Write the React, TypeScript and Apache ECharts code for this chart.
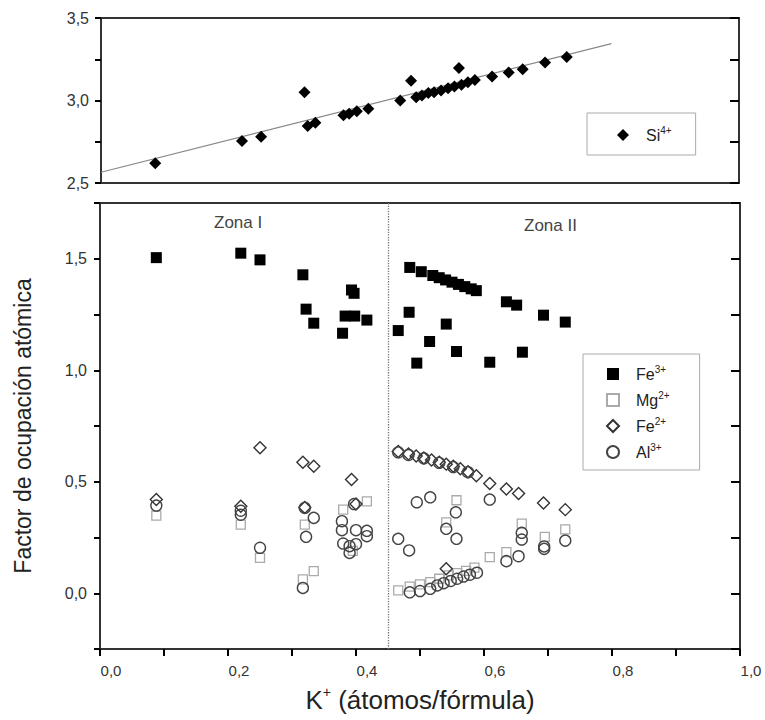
import React, { useEffect, useRef } from "react";
import * as echarts from "echarts";

// ---------- Data ----------
// Top panel: Si4+ vs K+
const siK = [0.085, 0.221, 0.251, 0.319, 0.324, 0.336, 0.38, 0.389, 0.401, 0.419, 0.469, 0.486, 0.494, 0.503, 0.513, 0.522, 0.533, 0.544, 0.554, 0.561, 0.565, 0.575, 0.586, 0.613, 0.639, 0.661, 0.696, 0.73];
const siVal = [2.62, 2.755, 2.78, 3.05, 2.845, 2.865, 2.91, 2.92, 2.935, 2.95, 3.0, 3.12, 3.02, 3.03, 3.045, 3.05, 3.06, 3.075, 3.085, 3.197, 3.095, 3.11, 3.125, 3.146, 3.17, 3.19, 3.23, 3.263];
// regression line end points
const fitK = [0.0, 0.8];
const fitVal = [2.565, 3.345];

// Bottom panel
const fe3K = [0.088, 0.22, 0.25, 0.317, 0.322, 0.334, 0.379, 0.393, 0.397, 0.383, 0.398, 0.417,
  0.466, 0.483, 0.495, 0.515, 0.541, 0.557, 0.609, 0.66, 0.484, 0.502, 0.52, 0.53, 0.54, 0.55, 0.56, 0.57, 0.58, 0.588, 0.635, 0.651, 0.693, 0.727];
const fe3Val = [1.505, 1.525, 1.495, 1.428, 1.274, 1.211, 1.166, 1.36, 1.345, 1.243, 1.243, 1.225,
  1.178, 1.26, 1.032, 1.129, 1.207, 1.084, 1.036, 1.081, 1.461, 1.442, 1.425, 1.415, 1.405, 1.395, 1.385, 1.375, 1.365, 1.357, 1.307, 1.292, 1.247, 1.216];

const mgK = [0.088, 0.22, 0.25, 0.317, 0.334, 0.32, 0.38, 0.417, 0.395,
  0.466, 0.484, 0.5, 0.516, 0.53, 0.545, 0.558, 0.572, 0.585, 0.609, 0.635, 0.557, 0.541, 0.659, 0.695, 0.727];
const mgVal = [0.348, 0.308, 0.159, 0.062, 0.099, 0.308, 0.375, 0.412, 0.19,
  0.013, 0.03, 0.04, 0.05, 0.065, 0.08, 0.09, 0.1, 0.115, 0.162, 0.184, 0.417, 0.318, 0.312, 0.253, 0.286];

const fe2K = [0.088, 0.22, 0.25, 0.317, 0.334, 0.393, 0.32, 0.4,
  0.466, 0.482, 0.494, 0.506, 0.518, 0.53, 0.541, 0.552, 0.563, 0.575, 0.588, 0.609, 0.635, 0.654, 0.693, 0.727, 0.541];
const fe2Val = [0.42, 0.39, 0.652, 0.587, 0.569, 0.51, 0.385, 0.4,
  0.636, 0.625, 0.615, 0.607, 0.598, 0.588, 0.579, 0.569, 0.558, 0.545, 0.527, 0.492, 0.468, 0.447, 0.405, 0.375, 0.11];

const alK = [0.088, 0.22, 0.22, 0.25, 0.317, 0.32, 0.322, 0.334, 0.378, 0.378, 0.38, 0.39, 0.39, 0.4, 0.4, 0.417, 0.417, 0.397,
  0.466, 0.483, 0.495, 0.516, 0.556, 0.609, 0.541, 0.557, 0.659, 0.659, 0.654, 0.635, 0.694, 0.694, 0.727,
  0.484, 0.5, 0.516, 0.527, 0.537, 0.548, 0.558, 0.568, 0.578, 0.589,
  0.466, 0.482, 0.506, 0.53, 0.552, 0.575];
const alVal = [0.393, 0.352, 0.37, 0.204, 0.024, 0.383, 0.253, 0.338, 0.323, 0.283, 0.223, 0.211, 0.181, 0.283, 0.22, 0.28, 0.256, 0.4,
  0.244, 0.192, 0.408, 0.43, 0.363, 0.42, 0.289, 0.244, 0.271, 0.241, 0.166, 0.144, 0.199, 0.21, 0.236,
  0.004, 0.01, 0.02, 0.035, 0.045, 0.055, 0.065, 0.075, 0.083, 0.092,
  0.632, 0.62, 0.605, 0.585, 0.566, 0.543];

const zoneBoundary = 0.445;
const zoneLabels = ["Zona I", "Zona II"];

// Tick values that carry labels
const xLabelTicks = [0, 0.2, 0.4, 0.6, 0.8, 1.0];
const bottomYTicks = [0, 0.5, 1.0, 1.5];

const FONT = "'Liberation Sans', Arial, sans-serif";
const comma = (v: number) => v.toFixed(1).replace(".", ",");
const isIn = (list: number[], v: number) => list.some((t) => Math.abs(t - v) < 1e-6);
const zip = (a: number[], b: number[]) => a.map((v, i) => [v, b[i]]);

const supRich = {
  g: { width: 12, fontSize: 16, lineHeight: 20 },
  b: { fontSize: 16, color: "#222", fontFamily: FONT, lineHeight: 20 },
  s: { fontSize: 10, color: "#222", fontFamily: FONT, lineHeight: 12, verticalAlign: "top" },
};
const legendFmt = (name: string) => {
  const m = name.match(/^([A-Za-z]+)(\d\+)$/);
  return m ? `{g|}{b|${m[1]}}{s|${m[2]}}` : name;
};

const mkLine = () => ({ show: true, onZero: false, lineStyle: { color: "#333", width: 2 } });
const mkTick = (length: number, inside: boolean) => ({
  show: true, inside, length, lineStyle: { color: "#000", width: 2 },
});

export default function App() {
  const ref = useRef<HTMLDivElement>(null);
  useEffect(() => {
    if (!ref.current) return;
    const chart = echarts.init(ref.current, null, { renderer: "svg" });
    const labelStyle = { fontSize: 16, color: "#333", fontFamily: FONT };
    const frameAxis = (gridIndex: number, position: string) => ({
      type: "value", gridIndex, position, min: 0, max: 1, interval: 0.2,
      axisLine: mkLine(), axisTick: { show: false }, axisLabel: { show: false }, splitLine: { show: false },
    });
    const option: any = {
      animation: false,
      grid: [
        { left: 101, top: 18, width: 638, height: 165 },
        { left: 100, top: 203, width: 640, height: 446 },
      ],
      xAxis: [
        frameAxis(0, "bottom"),
        frameAxis(0, "top"),
        {
          type: "value", gridIndex: 1, position: "bottom", min: 0, max: 1, interval: 0.1,
          axisLine: mkLine(),
          axisTick: mkTick(7, false),
          axisLabel: {
            ...labelStyle, fontSize: 15, margin: 14, padding: [0, 0, 0, 22],
            formatter: (v: number) => (isIn(xLabelTicks, v) ? comma(v) : ""),
          },
          splitLine: { show: false },
          name: "{k|K}{p|+}{t| (átomos/fórmula)}",
          nameLocation: "middle",
          nameGap: 36,
          nameTextStyle: {
            rich: {
              k: { fontSize: 26, color: "#222", fontFamily: FONT, lineHeight: 30 },
              p: { fontSize: 14, color: "#222", fontFamily: FONT, lineHeight: 14, verticalAlign: "top" },
              t: { fontSize: 26, color: "#222", fontFamily: FONT, lineHeight: 30 },
            },
          },
        },
        frameAxis(1, "top"),
      ],
      yAxis: [
        {
          type: "value", gridIndex: 0, position: "left", min: 2.5, max: 3.5, interval: 0.25,
          axisLine: mkLine(),
          axisTick: mkTick(6, false),
          axisLabel: {
            ...labelStyle, margin: 12,
            formatter: (v: number) => (Math.abs(v * 2 - Math.round(v * 2)) < 1e-6 ? comma(v) : ""),
          },
          splitLine: { show: false },
        },
        {
          type: "value", gridIndex: 0, position: "right", min: 2.5, max: 3.5, interval: 0.25,
          axisLine: mkLine(),
          axisTick: mkTick(9, true),
          axisLabel: { show: false }, splitLine: { show: false },
        },
        {
          type: "value", gridIndex: 1, position: "left", min: -0.25, max: 1.75, interval: 0.25,
          axisLine: mkLine(),
          axisTick: mkTick(6, false),
          axisLabel: {
            ...labelStyle, margin: 13,
            formatter: (v: number) => (isIn(bottomYTicks, v) ? comma(v) : ""),
          },
          splitLine: { show: false },
          name: "Factor de ocupación atómica",
          nameLocation: "middle",
          nameGap: 66,
          nameTextStyle: { fontSize: 23, color: "#222", fontFamily: FONT },
        },
        {
          type: "value", gridIndex: 1, position: "right", min: -0.25, max: 1.75, interval: 0.25,
          axisLine: mkLine(),
          axisTick: mkTick(9, true),
          axisLabel: { show: false }, splitLine: { show: false },
        },
      ],
      legend: [
        {
          data: ["Si4+"], left: 587, top: 113, orient: "vertical",
          padding: [12, 24, 12, 30], itemWidth: 12, itemHeight: 12,
          borderColor: "#aaa", borderWidth: 1, selectedMode: false,
          formatter: legendFmt, textStyle: { rich: supRich },
        },
        {
          data: ["Fe3+", "Mg2+", "Fe2+", "Al3+"], left: 583, top: 354, orient: "vertical",
          padding: [10, 30, 10, 23], itemGap: 8, itemWidth: 12, itemHeight: 12,
          borderColor: "#aaa", borderWidth: 1, selectedMode: false,
          formatter: legendFmt, textStyle: { rich: supRich },
        },
      ],
      graphic: [
        { type: "text", left: 240 - 26, top: 214, style: { text: zoneLabels[0], fontSize: 17, fill: "#444", fontFamily: FONT } },
        { type: "text", left: 553 - 29, top: 217, style: { text: zoneLabels[1], fontSize: 17, fill: "#444", fontFamily: FONT } },
      ],
      series: [
        {
          name: "fit", type: "line", xAxisIndex: 0, yAxisIndex: 0,
          data: zip(fitK, fitVal), symbol: "none",
          lineStyle: { color: "#888", width: 1.2 }, silent: true, z: 1,
        },
        {
          name: "Si4+", type: "scatter", xAxisIndex: 0, yAxisIndex: 0,
          data: zip(siK, siVal), symbol: "diamond", symbolSize: 12,
          itemStyle: { color: "#000", opacity: 1 }, z: 3,
        },
        {
          name: "Fe3+", type: "scatter", xAxisIndex: 2, yAxisIndex: 2,
          data: zip(fe3K, fe3Val), symbol: "rect", symbolSize: 11,
          itemStyle: { color: "#000", opacity: 1 },
          markLine: {
            silent: true, symbol: ["none", "none"], label: { show: false },
            lineStyle: { type: "dotted", color: "#777", width: 1.3 },
            data: [{ xAxis: zoneBoundary }],
          },
        },
        {
          name: "Mg2+", type: "scatter", xAxisIndex: 2, yAxisIndex: 2,
          data: zip(mgK, mgVal), symbol: "rect", symbolSize: 9,
          itemStyle: { color: "rgba(255,255,255,0)", borderColor: "#aaa", borderWidth: 1.3, opacity: 1 },
        },
        {
          name: "Fe2+", type: "scatter", xAxisIndex: 2, yAxisIndex: 2,
          data: zip(fe2K, fe2Val), symbol: "diamond", symbolSize: 12,
          itemStyle: { color: "rgba(255,255,255,0)", borderColor: "#333", borderWidth: 1.4, opacity: 1 },
        },
        {
          name: "Al3+", type: "scatter", xAxisIndex: 2, yAxisIndex: 2,
          data: zip(alK, alVal), symbol: "circle", symbolSize: 11,
          itemStyle: { color: "rgba(255,255,255,0)", borderColor: "#444", borderWidth: 1.4, opacity: 1 },
        },
      ],
    };
    chart.setOption(option);
    return () => chart.dispose();
  }, []);
  return (
    <div
      ref={ref}
      style={{ position: "fixed", left: 0, top: 0, width: 765, height: 720, background: "#fff" }}
    />
  );
}
